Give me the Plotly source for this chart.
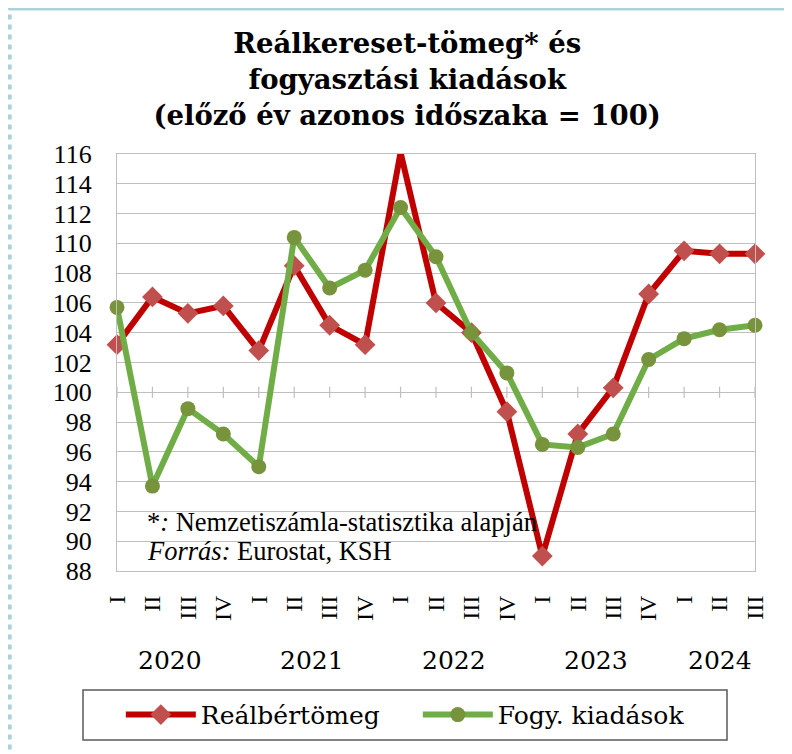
import plotly.graph_objects as go

quarters = ["I", "II", "III", "IV", "I", "II", "III", "IV", "I", "II", "III", "IV",
            "I", "II", "III", "IV", "I", "II", "III"]
years = ["2020"] * 4 + ["2021"] * 4 + ["2022"] * 4 + ["2023"] * 4 + ["2024"] * 3
real_wage = [103.2, 106.4, 105.3, 105.8, 102.8, 108.5, 104.5, 103.2, 116.1, 106.0,
             104.0, 98.7, 89.0, 97.2, 100.3, 106.6, 109.5, 109.3, 109.3]
consumption = [105.7, 93.7, 98.9, 97.2, 95.0, 110.4, 107.0, 108.2, 112.4, 109.1,
               104.0, 101.3, 96.5, 96.3, 97.2, 102.2, 103.6, 104.2, 104.5]
year_labels = ["2020", "2021", "2022", "2023", "2024"]
y_ticks = list(range(88, 117, 2))

idx = list(range(len(quarters)))
SERIF = "Liberation Serif"
WIDE_SERIF = "DejaVu Serif"

fig = go.Figure()

# small tick marks on the 100 line
fig.add_trace(go.Scatter(
    x=idx, y=[100] * len(idx), mode="markers",
    marker=dict(symbol="line-ns", size=8, line=dict(color="#bfbfbf", width=1.2)),
    hoverinfo="skip", showlegend=False,
))

fig.add_trace(go.Scatter(
    x=idx, y=real_wage, mode="lines+markers", name="Reálbértömeg",
    line=dict(color="#c00000", width=6),
    marker=dict(symbol="diamond", size=16, color="#c0504d"),
    cliponaxis=False,
))
fig.add_trace(go.Scatter(
    x=idx, y=consumption, mode="lines+markers", name="Fogy. kiadások",
    line=dict(color="#70ad47", width=6),
    marker=dict(symbol="circle", size=15, color="#77933c"),
    cliponaxis=False,
))

# year labels centred under their quarters
annotations = []
for yl in year_labels:
    pos = [i for i, y in enumerate(years) if y == yl]
    annotations.append(dict(
        x=sum(pos) / len(pos), xref="x", y=0, yref="paper", yshift=-89,
        text=yl, showarrow=False, yanchor="middle",
        font=dict(family=WIDE_SERIF, size=25, color="black"),
    ))

annotations.append(dict(
    x=0.044, xref="paper", y=91.3, yref="y", xanchor="left", yanchor="middle",
    text="*<i>:</i> Nemzetiszámla-statisztika alapján",
    showarrow=False, align="left",
    font=dict(family=SERIF, size=26.5, color="black"),
))
annotations.append(dict(
    x=0.044, xref="paper", y=89.35, yref="y", xanchor="left", yanchor="middle",
    text="<i>Forrás:</i> Eurostat, KSH",
    showarrow=False, align="left",
    font=dict(family=SERIF, size=26.5, color="black"),
))

fig.update_layout(
    width=792, height=754,
    paper_bgcolor="white", plot_bgcolor="white",
    margin=dict(l=109, r=45, t=146, b=191),
    title=dict(
        text="<b>Reálkereset-tömeg* és<br>fogyasztási kiadások<br>(előző év azonos időszaka = 100)</b>",
        x=0.504, xanchor="center", y=0.94, yanchor="top",
        font=dict(family=WIDE_SERIF, size=27.5, color="black"),
    ),
    xaxis=dict(
        range=[0, len(idx) - 1], tickmode="array", tickvals=idx, ticktext=quarters,
        tickangle=-90, showgrid=False, zeroline=False,
        showline=True, linecolor="#bfbfbf", linewidth=1.3, mirror=True,
        ticks="", ticklabelstandoff=14,
        tickfont=dict(family=SERIF, size=24, color="black"),
    ),
    yaxis=dict(
        range=[88, 116], tickmode="array", tickvals=y_ticks,
        showgrid=True, gridcolor="#bfbfbf", gridwidth=1.3, zeroline=False,
        showline=True, linecolor="#bfbfbf", linewidth=1.3, mirror=True,
        ticks="", ticklabelstandoff=19,
        tickfont=dict(family=SERIF, size=26, color="black"),
    ),
    legend=dict(
        orientation="h", x=0.006, xanchor="left", y=-0.345, yanchor="middle",
        borderwidth=0, bgcolor="rgba(0,0,0,0)",
        font=dict(family=WIDE_SERIF, size=25, color="black"),
        itemwidth=70, entrywidthmode="pixels", entrywidth=212,
    ),
    annotations=annotations,
    shapes=[
        # legend frame
        dict(type="rect", xref="paper", yref="paper",
             x0=-34 / 638, x1=610 / 638, y0=-119 / 417, y1=-169 / 417,
             line=dict(color="#595959", width=1.5), fillcolor="white", layer="below"),
        dict(type="line", xref="paper", yref="paper", x0=-0.17, x1=1.08,
             y0=1 + 145 / 417, y1=1 + 145 / 417,
             line=dict(color="#a9d3d8", width=3)),
        dict(type="line", xref="paper", yref="paper", x0=-0.169, x1=-0.169,
             y0=-0.5, y1=1 + 146 / 417,
             line=dict(color="#a9d3d8", width=5, dash="dot")),
    ],
)

fig.write_html("out.html")
